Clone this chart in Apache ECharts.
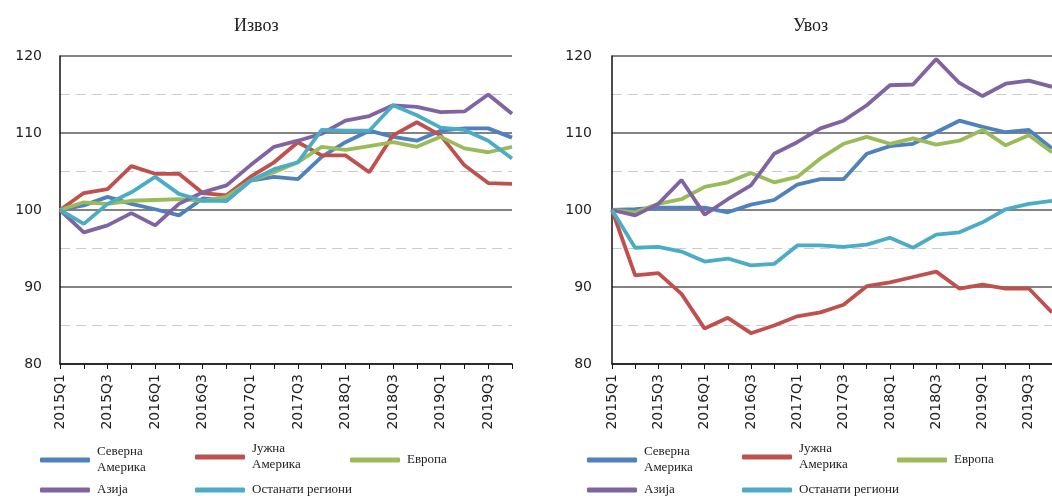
<!DOCTYPE html>
<html>
<head>
<meta charset="utf-8">
<script src="https://cdn.jsdelivr.net/npm/echarts@6/dist/echarts.min.js"></script>
<style>
html, body { margin: 0; padding: 0; background: #fff; }
#main { width: 1052px; height: 496px; }
</style>
</head>
<body>
<div id="main"></div>
<script>
var quarters = ['2015Q1','2015Q2','2015Q3','2015Q4','2016Q1','2016Q2','2016Q3','2016Q4',
    '2017Q1','2017Q2','2017Q3','2017Q4','2018Q1','2018Q2','2018Q3','2018Q4',
    '2019Q1','2019Q2','2019Q3','2019Q4'];

var regions = ['Северна Америка', 'Јужна Америка', 'Европа', 'Азија', 'Останати региони'];
var colors = ['#4f81bd', '#c0504d', '#9bbb59', '#8064a2', '#4bacc6'];

// Извоз
var expNorthAm = [100, 100.6, 101.7, 100.8, 100.1, 99.3, 101.5, 101.2, 103.8, 104.3, 104.0, 106.9, 108.8, 110.3, 109.5, 109.0, 110.3, 110.6, 110.6, 109.4];
var expSouthAm = [100, 102.2, 102.7, 105.7, 104.7, 104.7, 102.2, 101.9, 104.3, 106.2, 108.8, 107.1, 107.1, 104.9, 109.7, 111.4, 109.7, 105.8, 103.5, 103.4];
var expEurope  = [100, 101.0, 100.8, 101.2, 101.3, 101.4, 101.2, 101.7, 103.8, 104.9, 106.2, 108.2, 107.8, 108.3, 108.8, 108.2, 109.5, 108.0, 107.5, 108.2];
var expAsia    = [100, 97.1, 98.0, 99.6, 98.0, 100.8, 102.3, 103.2, 105.8, 108.2, 109.0, 109.9, 111.6, 112.2, 113.6, 113.4, 112.7, 112.8, 115.0, 112.5];
var expOther   = [100, 98.2, 100.8, 102.3, 104.3, 102.1, 101.2, 101.2, 103.8, 105.3, 106.2, 110.4, 110.3, 110.3, 113.6, 112.3, 110.7, 110.4, 109.0, 106.7];

// Увоз
var impNorthAm = [100, 100.1, 100.3, 100.3, 100.3, 99.7, 100.7, 101.3, 103.3, 104.0, 104.0, 107.3, 108.3, 108.6, 110.1, 111.6, 110.8, 110.1, 110.4, 108.0];
var impSouthAm = [100, 91.5, 91.8, 89.1, 84.6, 86.0, 84.0, 85.0, 86.2, 86.7, 87.7, 90.1, 90.6, 91.3, 92.0, 89.8, 90.3, 89.8, 89.8, 86.7];
var impEurope  = [100, 99.7, 100.8, 101.4, 103.0, 103.6, 104.8, 103.6, 104.3, 106.7, 108.6, 109.5, 108.6, 109.3, 108.5, 109.0, 110.4, 108.4, 109.7, 107.5];
var impAsia    = [100, 99.3, 100.8, 103.9, 99.4, 101.4, 103.2, 107.3, 108.8, 110.6, 111.6, 113.6, 116.2, 116.3, 119.6, 116.5, 114.8, 116.4, 116.8, 116.0];
var impOther   = [100, 95.1, 95.2, 94.6, 93.3, 93.7, 92.8, 93.0, 95.4, 95.4, 95.2, 95.5, 96.4, 95.1, 96.8, 97.1, 98.4, 100.1, 100.8, 101.2];

var exportData = [expNorthAm, expSouthAm, expEurope, expAsia, expOther];
var importData = [impNorthAm, impSouthAm, impEurope, impAsia, impOther];

var myChart = echarts.init(document.getElementById('main'));

function makeXAxis(idx) {
    return {
        type: 'category',
        gridIndex: idx,
        data: quarters,
        boundaryGap: false,
        axisLine: { lineStyle: { color: '#111', width: 1.5 } },
        axisTick: { show: true, interval: 0, length: 5, lineStyle: { color: '#111' } },
        axisLabel: {
            rotate: 90, interval: 1, margin: 10,
            fontFamily: 'DejaVu Sans', fontSize: 14, color: '#222'
        },
        splitLine: { show: false }
    };
}

function makeYAxis(idx, margin) {
    return {
        type: 'value',
        gridIndex: idx,
        min: 80, max: 120, interval: 10,
        axisLine: { show: true, lineStyle: { color: '#111', width: 1.5 } },
        axisTick: { show: false },
        axisLabel: { margin: margin, fontFamily: 'DejaVu Sans', fontSize: 14, color: '#222' },
        splitLine: { show: true, lineStyle: { color: '#5a5a5a', width: 1.5 } },
        minorTick: { show: false, splitNumber: 2 },
        minorSplitLine: { show: true, lineStyle: { color: '#cccccc', width: 1, type: [10, 6] } }
    };
}

// legend items placed one by one, like the original
var legendPos = [
    { left: 40, top: 444, text: 'Северна\nАмерика' },
    { left: 195, top: 441, text: 'Јужна\nАмерика' },
    { left: 350, top: 452, text: 'Европа' },
    { left: 40, top: 482, text: 'Азија' },
    { left: 195, top: 482, text: 'Останати региони' }
];
var legends = [];
[0, 547].forEach(function (dx) {
    legendPos.forEach(function (p, i) {
        legends.push({
            left: p.left + dx, top: p.top,
            padding: 0,
            data: [regions[i]],
            icon: 'roundRect', itemWidth: 50, itemHeight: 5,
            formatter: function () { return p.text; },
            textStyle: { fontFamily: 'Liberation Serif', fontSize: 13, lineHeight: 16, color: '#222', padding: [0, 0, 0, 2] }
        });
    });
});

var series = [];
[exportData, importData].forEach(function (set, g) {
    set.forEach(function (vals, i) {
        series.push({
            name: regions[i],
            type: 'line',
            xAxisIndex: g, yAxisIndex: g,
            data: vals,
            symbol: 'none',
            lineStyle: { width: 3.8, color: colors[i] },
            itemStyle: { color: colors[i] },
            animation: false
        });
    });
});

var option = {
    backgroundColor: '#fff',
    color: colors,
    title: [
        { text: 'Извоз', left: 229, top: 12, textStyle: { fontFamily: 'Liberation Serif', fontSize: 18, fontWeight: 'normal', color: '#222' } },
        { text: 'Увоз', left: 788, top: 12, textStyle: { fontFamily: 'Liberation Serif', fontSize: 18, fontWeight: 'normal', color: '#222' } }
    ],
    legend: legends,
    grid: [
        { left: 60, top: 56, width: 452, height: 308 },
        { left: 612, top: 56, width: 447, height: 308 }
    ],
    xAxis: [makeXAxis(0), makeXAxis(1)],
    yAxis: [makeYAxis(0, 18), makeYAxis(1, 20)],
    series: series
};
myChart.setOption(option);
</script>
</body>
</html>
